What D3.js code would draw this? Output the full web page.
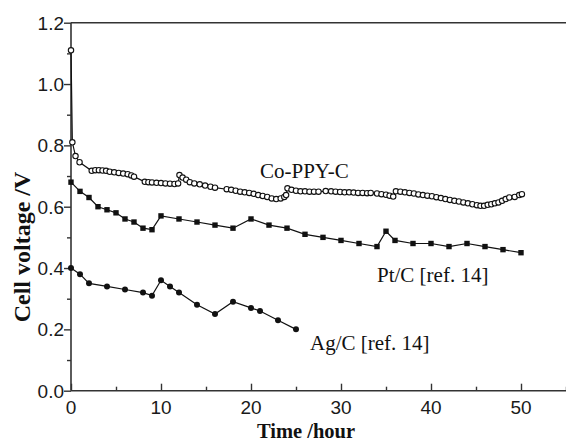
<!DOCTYPE html>
<html>
<head>
<meta charset="utf-8">
<script src="https://cdn.jsdelivr.net/npm/d3@7"></script>
<style>
html,body{margin:0;padding:0;background:#fff;}
svg{display:block;}
</style>
</head>
<body>
<svg id="chart" width="566" height="442"></svg>
<script>
// ---- data ----
const coTime = [0,0.15,0.5,0.95,2.3,2.7,3.1,3.5,3.9,4.3,4.8,5.3,5.8,6.3,6.7,7.0,8.2,8.6,9.0,9.5,10.0,10.5,11.0,11.5,11.9,12.05,12.4,12.8,13.2,13.7,14.3,14.9,15.5,16.0,17.3,17.8,18.3,18.8,19.3,19.8,20.3,20.8,21.3,21.8,22.3,22.8,23.3,23.7,23.9,24.05,24.5,25.0,25.5,26.0,26.5,27.0,27.5,28.3,28.9,29.4,29.9,30.4,30.9,31.4,31.9,32.4,32.9,33.3,34.0,34.5,35.0,35.4,35.8,36.1,36.6,37.1,37.6,38.1,38.6,39.1,39.6,40.1,40.6,41.1,41.6,42.1,42.6,43.1,43.6,44.1,44.6,45.1,45.5,45.9,46.3,46.7,47.1,47.5,47.9,48.3,48.7,49.3,49.8,50.1];
const coVolt = [1.11,0.81,0.765,0.745,0.717,0.719,0.719,0.718,0.717,0.714,0.712,0.710,0.708,0.706,0.702,0.698,0.681,0.680,0.679,0.678,0.677,0.676,0.675,0.674,0.676,0.703,0.695,0.688,0.680,0.676,0.673,0.669,0.665,0.662,0.657,0.655,0.652,0.649,0.647,0.645,0.642,0.638,0.635,0.632,0.627,0.625,0.627,0.632,0.638,0.660,0.655,0.652,0.650,0.650,0.649,0.649,0.649,0.651,0.650,0.649,0.648,0.647,0.647,0.646,0.645,0.645,0.644,0.645,0.643,0.641,0.639,0.636,0.633,0.650,0.649,0.647,0.645,0.643,0.640,0.638,0.636,0.634,0.631,0.628,0.625,0.622,0.619,0.617,0.614,0.611,0.608,0.605,0.603,0.603,0.606,0.608,0.611,0.614,0.619,0.625,0.630,0.632,0.638,0.641];

const ptTime = [0,1,2,3,4,5,6,7,8,9,10,12,14,16,18,20,22,24,26,28,30,32,34,35,36,38,40,42,44,46,48,50];
const ptVolt = [0.68,0.65,0.63,0.60,0.59,0.58,0.56,0.55,0.53,0.525,0.57,0.56,0.55,0.54,0.53,0.56,0.54,0.53,0.51,0.50,0.49,0.48,0.47,0.52,0.49,0.48,0.48,0.47,0.48,0.47,0.46,0.45];

const agTime = [0,1,2,4,6,8,9,10,11,12,14,16,18,20,21,23,25];
const agVolt = [0.40,0.38,0.35,0.34,0.33,0.32,0.31,0.36,0.34,0.32,0.28,0.25,0.29,0.27,0.26,0.23,0.20];

const xTicks = [0,10,20,30,40,50];
const xMinorTicks = [5,15,25,35,45,55];
const yTicks = [0,0.2,0.4,0.6,0.8,1.0,1.2];
const yMinorTicks = [0.1,0.3,0.5,0.7,0.9,1.1];

const seriesLabels = ["Co-PPY-C","Pt/C [ref. 14]","Ag/C [ref. 14]"];
const xTitle = "Time /hour";
const yTitle = "Cell voltage /V";

// ---- drawing ----
(function(){
const svg = d3.select("#chart");
const mLeft = 71, mTop = 22.7, mBottom = 390.7, mRight = 575;
const x = d3.scaleLinear().domain([0,56]).range([mLeft,mRight]);
const y = d3.scaleLinear().domain([0,1.2]).range([mBottom,mTop]);

const axisColor = "#333";
const tickFont = "'Liberation Sans', Arial, sans-serif";
const serif = "'Liberation Serif', 'Times New Roman', serif";

// frame top line
svg.append("line").attr("x1",mLeft).attr("x2",mRight).attr("y1",mTop).attr("y2",mTop)
  .attr("stroke",axisColor).attr("stroke-width",1.6);

// x axis (ticks inward)
const gx = svg.append("g").attr("transform",`translate(0,${mBottom})`);
gx.append("g").call(d3.axisTop(x).tickValues(xTicks).tickSize(7).tickFormat(""));
gx.append("g").call(d3.axisTop(x).tickValues(xMinorTicks.filter(v=>v<56)).tickSize(4).tickFormat(""));
gx.selectAll(".domain").remove();
gx.selectAll("line").attr("stroke",axisColor).attr("stroke-width",1.4);
svg.append("line").attr("x1",mLeft).attr("x2",mRight).attr("y1",mBottom).attr("y2",mBottom)
  .attr("stroke",axisColor).attr("stroke-width",1.6);
svg.append("g").selectAll("text").data(xTicks).join("text")
  .attr("x",d=>x(d)).attr("y",413.5).attr("text-anchor","middle")
  .attr("font-family",tickFont).attr("font-size",19).attr("fill","#1a1a1a")
  .text(d=>d3.format("d")(d));

// y axis (ticks outward)
const gy = svg.append("g").attr("transform",`translate(${mLeft},0)`);
gy.append("g").call(d3.axisLeft(y).tickValues(yTicks).tickSize(7).tickFormat(""));
gy.append("g").call(d3.axisLeft(y).tickValues(yMinorTicks).tickSize(4).tickFormat(""));
gy.selectAll(".domain").remove();
gy.selectAll("line").attr("stroke",axisColor).attr("stroke-width",1.4);
svg.append("line").attr("x1",mLeft).attr("x2",mLeft).attr("y1",mTop).attr("y2",mBottom)
  .attr("stroke",axisColor).attr("stroke-width",1.6);
svg.append("g").selectAll("text").data(yTicks).join("text")
  .attr("x",64).attr("y",d=>y(d)).attr("dy","0.36em").attr("text-anchor","end")
  .attr("font-family",tickFont).attr("font-size",19).attr("fill","#1a1a1a")
  .text(d=>d3.format(".1f")(d));

// titles
svg.append("text").attr("x",306).attr("y",438).attr("text-anchor","middle")
  .attr("font-family",serif).attr("font-weight","bold").attr("font-size",20.5)
  .attr("fill","#111").text(xTitle);
svg.append("text").attr("transform","translate(30,247) rotate(-90)").attr("text-anchor","middle")
  .attr("font-family",serif).attr("font-weight","bold").attr("font-size",24)
  .attr("fill","#111").text(yTitle);

const line = d3.line().x(d=>x(d[0])).y(d=>y(d[1]));
const co = coTime.map((t,i)=>[t,coVolt[i]]);
const pt = ptTime.map((t,i)=>[t,ptVolt[i]]);
const ag = agTime.map((t,i)=>[t,agVolt[i]]);

const plot = svg.append("g");
[co,pt,ag].forEach(s=>{
  plot.append("path").datum(s).attr("d",line).attr("fill","none")
    .attr("stroke","#111").attr("stroke-width",1.2);
});
plot.append("g").selectAll("rect").data(pt).join("rect")
  .attr("x",d=>x(d[0])-2.7).attr("y",d=>y(d[1])-2.7).attr("width",5.4).attr("height",5.4)
  .attr("fill","#111");
plot.append("g").selectAll("circle").data(ag).join("circle")
  .attr("cx",d=>x(d[0])).attr("cy",d=>y(d[1])).attr("r",3).attr("fill","#111");
plot.append("g").selectAll("circle").data(co).join("circle")
  .attr("cx",d=>x(d[0])).attr("cy",d=>y(d[1])).attr("r",2.7)
  .attr("fill","#fff").attr("stroke","#111").attr("stroke-width",1.1);

// series labels
const labelPos = [[260,178],[377,282],[310,350]];
svg.append("g").selectAll("text").data(seriesLabels).join("text")
  .attr("x",(d,i)=>labelPos[i][0]).attr("y",(d,i)=>labelPos[i][1])
  .attr("font-family",serif).attr("font-size",21).attr("fill","#111")
  .text(d=>d);
})();
</script>
</body>
</html>
